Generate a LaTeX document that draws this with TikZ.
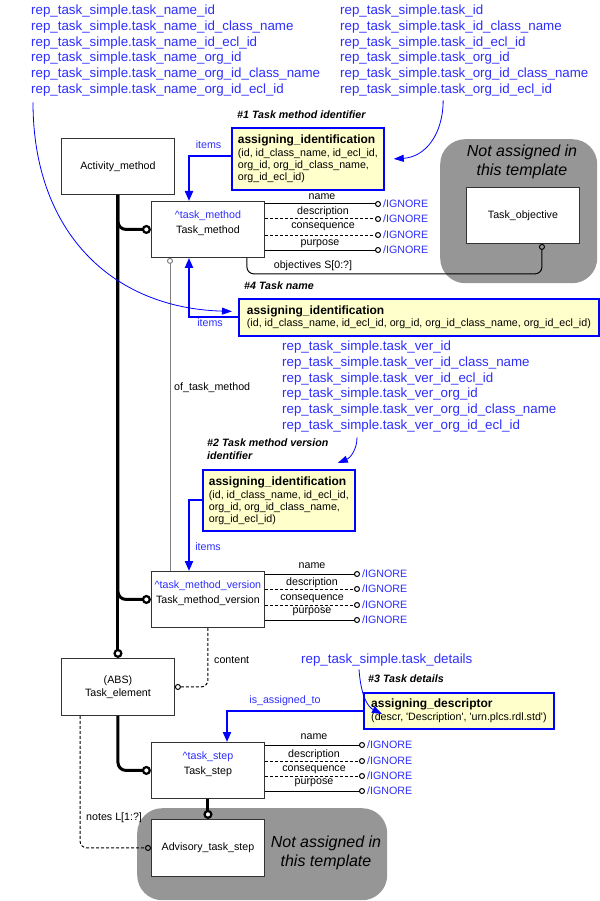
\documentclass[tikz,border=0pt]{standalone}
\usepackage{fontspec}
\setmainfont{Liberation Sans}
\usetikzlibrary{arrows.meta}
\definecolor{refblue}{RGB}{45,45,255}
\definecolor{boxyellow}{RGB}{255,255,204}
\definecolor{regiongray}{RGB}{150,150,150}
\newcommand\fsA{\fontsize{10.67}{12.5}\selectfont}
\newcommand\fsB{\fontsize{13.33}{15.8}\selectfont}
\newcommand\fsC{\fontsize{16}{19}\selectfont}
\newcommand\fsD{\fontsize{12}{13}\selectfont\bfseries}
\newcommand\sq{\textquotesingle}
\begin{document}
\begin{tikzpicture}[x=1pt,y=-1pt,
  ent/.style={draw=black!80, line width=0.9pt, fill=white, minimum width=113pt, minimum height=56pt, inner sep=0pt, align=center, font=\fsA, anchor=north west},
  entt/.style={ent, font=\fontsize{10.67}{15}\selectfont},
  ybox/.style={draw=blue, line width=1.8pt, fill=boxyellow, inner xsep=6pt, inner ysep=0pt, align=left, font=\fontsize{10.67}{12}\selectfont, anchor=north west},
  refline/.style={text=refblue, font=\fsB, inner sep=0pt, anchor=west},
  lab/.style={font=\fsA, inner sep=0pt},
  bluelab/.style={lab, text=refblue},
  ttl/.style={font=\fsA\bfseries\itshape, inner sep=0pt, anchor=west},
  ign/.style={text=refblue, font=\fsA, inner xsep=2pt, inner ysep=0pt, anchor=west},
  attr/.style={draw=black, line width=1pt, -{Circle[open,length=6pt,width=6pt]}},
  attrd/.style={attr, dash pattern=on 3pt off 2pt},
  sup/.style={draw=black, line width=3pt, rounded corners=8pt, shorten >=5pt},
  ring/.style={draw=black, line width=2.2pt, fill=white},
  assign/.style={draw=blue, line width=2pt, -{Triangle[length=10pt,width=8pt]}},
  mapcurve/.style={draw=blue, line width=0.8pt, -{Triangle[length=10pt,width=7pt]}},
  region/.style={fill=regiongray, rounded corners=25pt, inner sep=0pt, anchor=north west},
  nat/.style={font=\fsC\itshape, align=center, inner sep=0pt},
]
\useasboundingbox (0,0) rectangle (599,901);

% grey regions
\node[region, minimum width=157pt, minimum height=144pt] (g1) at (440,139) {};
\node[region, minimum width=250pt, minimum height=92pt] (g2) at (137,808) {};
\node[nat] (g1t) at (522,161.5) {Not assigned in\\this template};
\node[nat] (g2t) at (326,852.5) {Not assigned in\\this template};

% reference texts
\foreach \s [count=\i] in {task\_name\_id, task\_name\_id\_class\_name, task\_name\_id\_ecl\_id, task\_name\_org\_id, task\_name\_org\_id\_class\_name, task\_name\_org\_id\_ecl\_id}
  \node[refline] (tl\i) at (31,{11+15.8*(\i-1)}) {rep\_task\_simple.\s};
\foreach \s [count=\i] in {task\_id, task\_id\_class\_name, task\_id\_ecl\_id, task\_org\_id, task\_org\_id\_class\_name, task\_org\_id\_ecl\_id}
  \node[refline] (tr\i) at (340,{11+15.8*(\i-1)}) {rep\_task\_simple.\s};
\foreach \s [count=\i] in {task\_ver\_id, task\_ver\_id\_class\_name, task\_ver\_id\_ecl\_id, task\_ver\_org\_id, task\_ver\_org\_id\_class\_name, task\_ver\_org\_id\_ecl\_id}
  \node[refline] (mid\i) at (282,{347+15.8*(\i-1)}) {rep\_task\_simple.\s};
\node[refline] (td) at (301,660) {rep\_task\_simple.task\_details};

% entities
\node[ent] (am) at (61,138) {Activity\_method};
\node[entt] (tm) at (151,201) {{\color{refblue}\textasciicircum task\_method}\\Task\_method\\\rule{0pt}{1pt}};
\node[ent] (tobj) at (466,187) {Task\_objective};
\node[entt] (tmv) at (151,571) {{\color{refblue}\textasciicircum task\_method\_version}\\Task\_method\_version\\\rule{0pt}{1pt}};
\node[ent, minimum height=57pt] (te) at (61,658) {(ABS)\\Task\_element};
\node[entt] (ts) at (151,742) {{\color{refblue}\textasciicircum task\_step}\\Task\_step\\\rule{0pt}{1pt}};
\node[ent, minimum height=57pt] (ats) at (151,819) {Advisory\_task\_step};

% assignment boxes
\node[ttl] (t1) at (237,115) {\#1 Task method identifier};
\node[ybox, minimum width=151pt, minimum height=62pt] (b1) at (231,127)
  {{\fsD assigning\_identification}\\[1pt](id, id\_class\_name, id\_ecl\_id,\\org\_id, org\_id\_class\_name,\\org\_id\_ecl\_id)};
\node[ttl] (t4) at (244,286) {\#4 Task name};
\node[ybox, minimum width=360pt, minimum height=37pt] (b4) at (238,298)
  {{\fsD assigning\_identification}\\(id, id\_class\_name, id\_ecl\_id, org\_id, org\_id\_class\_name, org\_id\_ecl\_id)};
\node[ttl, anchor=north west, align=left, font=\fontsize{10.67}{13}\selectfont\bfseries\itshape] (t2) at (207,439) {\#2 Task method version\\identifier};
\node[ybox, minimum width=151pt, minimum height=61pt] (b2) at (202,469)
  {{\fsD assigning\_identification}\\[1pt](id, id\_class\_name, id\_ecl\_id,\\org\_id, org\_id\_class\_name,\\org\_id\_ecl\_id)};
\node[ttl] (t3) at (368,679) {\#3 Task details};
\node[ybox, minimum width=190pt, minimum height=36pt] (b3) at (363,692)
  {{\fsD assigning\_descriptor}\\[1pt](descr, \sq Description\sq, \sq urn.plcs.rdl.std\sq)};

% attribute targets
\node[ign] (tmi1) at (381,204) {/IGNORE};
\node[ign] (tmi2) at (381,219) {/IGNORE};
\node[ign] (tmi3) at (381,235) {/IGNORE};
\node[ign] (tmi4) at (381,250) {/IGNORE};
\node[ign] (vi1) at (360,574) {/IGNORE};
\node[ign] (vi2) at (360,589) {/IGNORE};
\node[ign] (vi3) at (360,605) {/IGNORE};
\node[ign] (vi4) at (360,620) {/IGNORE};
\node[ign] (si1) at (365,745) {/IGNORE};
\node[ign] (si2) at (365,761) {/IGNORE};
\node[ign] (si3) at (365,776) {/IGNORE};
\node[ign] (si4) at (365,791) {/IGNORE};

% attribute labels
\node[lab] (tml1) at (322,197) {name};
\node[lab] (tml2) at (323,212) {description};
\node[lab] (tml3) at (323,227) {consequence};
\node[lab] (tml4) at (320,244) {purpose};
\node[lab] (vl1) at (312,566) {name};
\node[lab] (vl2) at (312,583) {description};
\node[lab] (vl3) at (312,599) {consequence};
\node[lab] (vl4) at (312,612) {purpose};
\node[lab] (sl1) at (314,737) {name};
\node[lab] (sl2) at (314,755) {description};
\node[lab] (sl3) at (314,770) {consequence};
\node[lab] (sl4) at (314,783) {purpose};

% relation labels
\node[lab] (lobj) at (313,266) {objectives S[0:?]};
\node[lab, anchor=west] (loft) at (174,388) {of\_task\_method};
\node[lab, anchor=west] (lcont) at (214,660) {content};
\node[lab, anchor=west] (lnotes) at (86,818) {notes L[1:?]};
\node[bluelab] (it1) at (208.5,145) {items};
\node[bluelab] (it4) at (210,323) {items};
\node[bluelab] (it2) at (208,547) {items};
\node[bluelab] (ia) at (285,701) {is\_assigned\_to};

% attribute connectors
\draw[attr] (tmi1.west -| tm.east) -- (tmi1.west);
\draw[attrd] (tmi2.west -| tm.east) -- (tmi2.west);
\draw[attrd] (tmi3.west -| tm.east) -- (tmi3.west);
\draw[attr] (tmi4.west -| tm.east) -- (tmi4.west);
\draw[attr] (vi1.west -| tmv.east) -- (vi1.west);
\draw[attrd] (vi2.west -| tmv.east) -- (vi2.west);
\draw[attrd] (vi3.west -| tmv.east) -- (vi3.west);
\draw[attr] (vi4.west -| tmv.east) -- (vi4.west);
\draw[attr] (si1.west -| ts.east) -- (si1.west);
\draw[attrd] (si2.west -| ts.east) -- (si2.west);
\draw[attrd] (si3.west -| ts.east) -- (si3.west);
\draw[attr] (si4.west -| ts.east) -- (si4.west);

% relations
\draw[attr, rounded corners=7pt] ([xshift=-18pt]tm.south east) -- ++(0,16) -| ([xshift=19pt]tobj.south);
\draw[draw=black!50, line width=1pt, {Circle[open,length=6pt,width=6pt]}-] ([xshift=19pt]tm.south west) -- ([xshift=19pt]tmv.north west);
\draw[attrd, rounded corners=7pt] (tmv.south) |- (te.east);
\draw[attrd, rounded corners=7pt] ([xshift=19pt]te.south west) |- (ats.west);

% supertype / subtype
\draw[sup] (am.south) -- (te.north);
\draw[sup] (am.south) |- (tm.west);
\draw[sup] (am.south) |- (tmv.west);
\draw[sup] (te.south) |- (ts.west);
\draw[sup] (ts.south) -- (ats.north);
\draw[ring] ([yshift=4.6pt]te.north) circle (3.4pt);
\draw[ring] ([xshift=-4.6pt]tm.west) circle (3.4pt);
\draw[ring] ([xshift=-4.6pt]tmv.west) circle (3.4pt);
\draw[ring] ([xshift=-4.6pt]ts.west) circle (3.4pt);
\draw[ring] ([yshift=4.6pt]ats.north) circle (3.4pt);

% assignments
\draw[assign] ([yshift=3pt]b1.west) -| ([xshift=38pt]tm.north west);
\draw[assign] (b4.west) -| ([xshift=38pt]tm.south west);
\draw[assign] (b2.west) -| ([xshift=38pt]tmv.north west);
\draw[assign] (b3.west) -| ([xshift=76pt]ts.north west);

% mapping curves
\draw[mapcurve] ([shift={(2pt,-6pt)}]tl6.south west) .. controls (33,230) and (110,308) .. ([shift={(-6pt,6pt)}]b4.west);
\draw[mapcurve] ([shift={(-3pt,-4pt)}]tr6.south) .. controls (443,135) and (425,157) .. ([xshift=9pt]b1.east);
\draw[mapcurve] ([shift={(75pt,-5pt)}]mid6.south west) .. controls (357,450) and (350,458) .. ([shift={(-18pt,6pt)}]b2.north east);
\draw[mapcurve] ([shift={(58pt,-3pt)}]td.south west) .. controls (361,697) and (368,707) .. ([shift={(19pt,-22pt)}]b3.north west);
\end{tikzpicture}
\end{document}
